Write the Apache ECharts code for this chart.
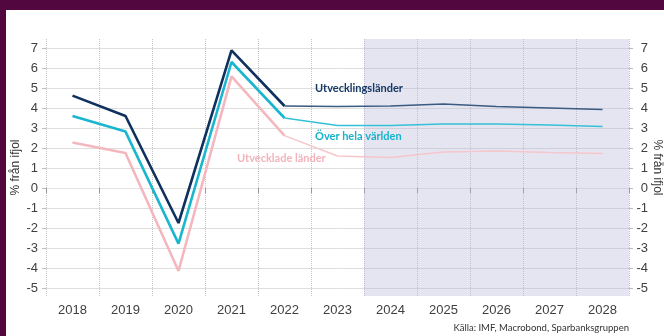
<!doctype html>
<html lang="sv">
<head>
<meta charset="utf-8">
<title>BNP-tillväxt</title>
<script src="https://cdn.jsdelivr.net/npm/echarts@6/dist/echarts.min.js"></script>
<style>
  html, body { margin: 0; padding: 0; background: #fff; }
  #wrap { position: relative; width: 664px; height: 336px; overflow: hidden; }
  #chart { position: absolute; left: 0; top: 0; width: 664px; height: 336px; }
  .band { position: absolute; background: #52073f; }
</style>
</head>
<body>
<div id="wrap">
  <div id="chart"></div>
  <div class="band" style="left:0;top:0;width:664px;height:10px"></div>
  <div class="band" style="left:0;top:0;width:6px;height:336px"></div>
</div>
<script>
// data, % från ifjol
var years = ['2018', '2019', '2020', '2021', '2022', '2023', '2024', '2025', '2026', '2027', '2028'];
var utvecklingslander = [4.62, 3.6, -1.75, 6.88, 4.1, 4.08, 4.1, 4.2, 4.08, 4.0, 3.92];
var helaVarlden = [3.6, 2.82, -2.78, 6.3, 3.5, 3.12, 3.12, 3.2, 3.2, 3.15, 3.07];
var utveckladeLander = [2.28, 1.75, -4.15, 5.58, 2.62, 1.6, 1.53, 1.8, 1.85, 1.78, 1.73];
var yTicks = [-5, -4, -3, -2, -1, 0, 1, 2, 3, 4, 5, 6, 7];
var lastActual = 4; // 2022 index, prognos efter
var shadeFrom = 6;  // 2024

function hist(arr) { return arr.map(function (v, i) { return i <= lastActual ? v : null; }); }
function prog(arr) { return arr.map(function (v, i) { return i >= lastActual ? v : null; }); }

var chart = echarts.init(document.getElementById('chart'));

var yAxisBase = {
  type: 'value',
  min: -5.4,
  max: 7.45,
  name: '% från ifjol',
  nameLocation: 'middle',
  nameMoveOverlap: false,
  nameTextStyle: { color: '#333', fontSize: 12, fontFamily: 'Liberation Sans, Arial' },
  axisLine: { show: false },
  axisTick: { show: true, length: 4, customValues: yTicks, lineStyle: { color: '#bbb' } },
  axisLabel: { customValues: yTicks, color: '#404040', fontSize: 13, fontFamily: 'Liberation Sans, Arial' },
  splitLine: { show: true, lineStyle: { color: '#dedede', width: 1 } }
};

var option = {
  animation: false,
  grid: { left: 46, right: 35, top: 39, bottom: 40, containLabel: false, outerBoundsMode: 'none' },
  xAxis: [{
    type: 'category',
    data: years,
    boundaryGap: true,
    axisLine: { show: true, lineStyle: { color: '#e4e4e4' } },
    axisTick: { show: true, length: 5, lineStyle: { color: '#999' } },
    axisLabel: { color: '#404040', fontSize: 13, margin: 8, fontFamily: 'Liberation Sans, Arial' },
    splitLine: { show: true, lineStyle: { color: '#c6c6c6', type: 'dotted', width: 1 } }
  }, {
    type: 'value', min: 0, max: years.length, show: false
  }],
  yAxis: [
    Object.assign({}, yAxisBase, { position: 'left', nameGap: 24, nameRotate: 90,
      axisLabel: Object.assign({}, yAxisBase.axisLabel, { margin: 8 }) }),
    Object.assign({}, yAxisBase, { position: 'right', nameGap: 22, nameRotate: -90,
      splitLine: { show: false },
      axisLabel: Object.assign({}, yAxisBase.axisLabel, { margin: 19, align: 'right' }) })
  ],
  series: [
    {
      name: 'prognos', type: 'line', xAxisIndex: 1, data: [], silent: true,
      markArea: { silent: true, itemStyle: { color: 'rgba(180,180,215,0.35)' }, data: [[{ xAxis: shadeFrom }, { xAxis: years.length }]] }
    },
    { name: 'Utvecklade länder', type: 'line', data: hist(utveckladeLander), symbol: 'none',
      lineStyle: { color: '#f4b7be', width: 2.6 } },
    { name: 'Utvecklade länder prognos', type: 'line', data: prog(utveckladeLander), symbol: 'none',
      lineStyle: { color: '#f6c6cc', width: 1.5 } },
    { name: 'Över hela världen', type: 'line', data: hist(helaVarlden), symbol: 'none',
      lineStyle: { color: '#1ab6cf', width: 2.6 } },
    { name: 'Över hela världen prognos', type: 'line', data: prog(helaVarlden), symbol: 'none',
      lineStyle: { color: '#35c0d8', width: 1.5 } },
    { name: 'Utvecklingsländer', type: 'line', data: hist(utvecklingslander), symbol: 'none',
      lineStyle: { color: '#0f315e', width: 2.6 } },
    { name: 'Utvecklingsländer prognos', type: 'line', data: prog(utvecklingslander), symbol: 'none',
      lineStyle: { color: '#3a5b82', width: 1.5 } }
  ],
  graphic: [
    { type: 'text', left: 315, top: 83, z: 100, style: { text: 'Utvecklingsländer', fill: '#163866', font: 'bold 11px Lato' } },
    { type: 'text', left: 315, top: 131, z: 100, style: { text: 'Över hela världen', fill: '#17b3cd', font: 'bold 11px Lato' } },
    { type: 'text', left: 237, top: 153, z: 100, style: { text: 'Utvecklade länder', fill: '#f3b3bb', font: 'bold 11px Lato' } },
    { type: 'text', right: 35, top: 323, z: 100, style: { text: 'Källa: IMF, Macrobond, Sparbanksgruppen', fill: '#333', font: '9.5px Lato' } }
  ]
};

chart.setOption(option);
</script>
</body>
</html>
